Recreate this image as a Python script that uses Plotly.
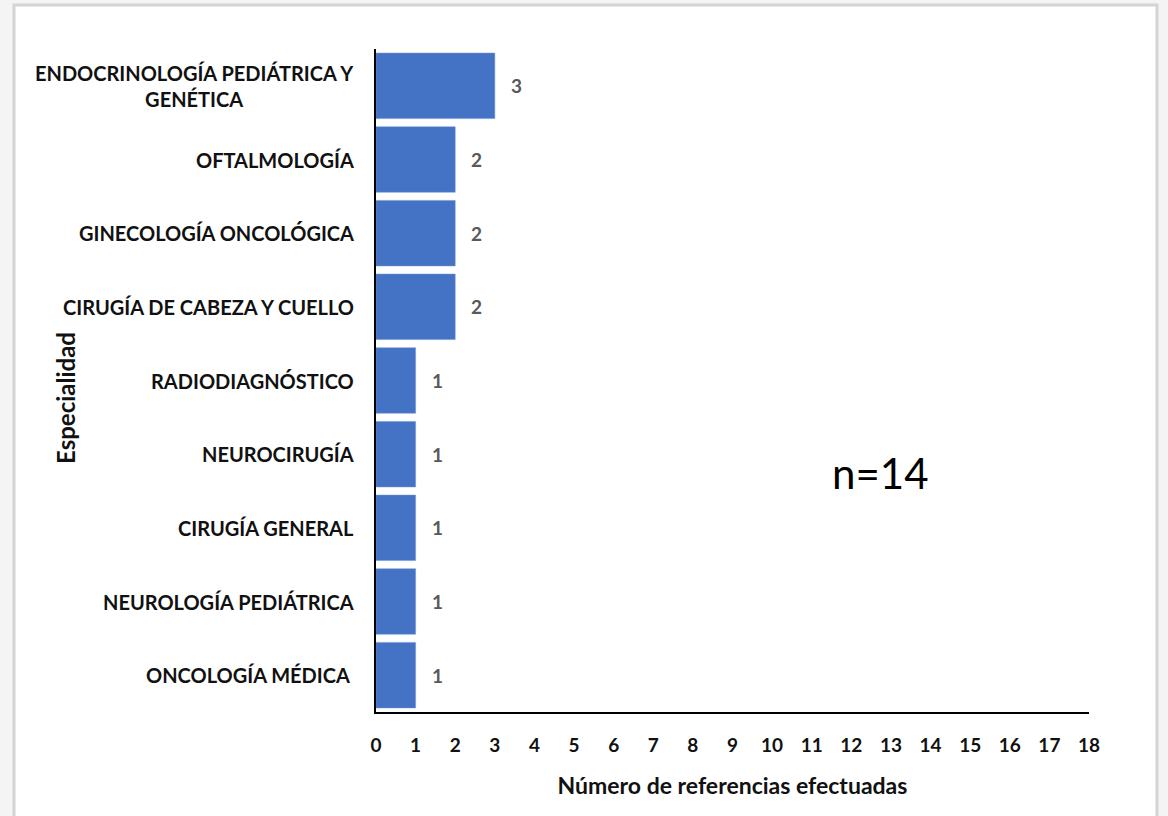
import plotly.graph_objects as go

categories = [
    "ENDOCRINOLOGÍA PEDIÁTRICA Y<br>GENÉTICA",
    "OFTALMOLOGÍA",
    "GINECOLOGÍA ONCOLÓGICA",
    "CIRUGÍA DE CABEZA Y CUELLO",
    "RADIODIAGNÓSTICO",
    "NEUROCIRUGÍA",
    "CIRUGÍA GENERAL",
    "NEUROLOGÍA PEDIÁTRICA",
    "ONCOLOGÍA MÉDICA\u00a0",
]
values = [3, 2, 2, 2, 1, 1, 1, 1, 1]
x_ticks = list(range(0, 19))
x_title = "Número de referencias efectuadas"
y_title = "Especialidad"
note = "n=14"

FONT = "Lato"
W, H = 1168, 816
L, R, T, B = 376, 1089, 49, 712

def px2x(p):
    return (p - L) / (R - L)

def px2y(p):
    return (B - p) / (B - T)

fig = go.Figure()
fig.add_trace(go.Bar(
    x=values, y=categories, orientation="h",
    marker=dict(color="#4472C4", line=dict(color="#6f93d6", width=0.5)),
    width=0.89, hoverinfo="skip",
))

annotations = []
for c, v in zip(categories, values):
    annotations.append(dict(x=v, y=c, xref="x", yref="y", text=f"<b>{v}</b>",
                            showarrow=False, xanchor="left", xshift=14,
                            font=dict(family=FONT, size=19, color="#595959")))
    annotations.append(dict(x=0, y=c, xref="paper", yref="y", text=f"<b>{c}</b>",
                            showarrow=False, xanchor="right", xshift=-20, align="center",
                            font=dict(family=FONT, size=20, color="#111111")))
annotations.append(dict(x=px2x(65), y=px2y(398), xref="paper", yref="paper",
                        xanchor="center", yanchor="middle",
                        text=f"<b>{y_title}</b>", textangle=-90, showarrow=False,
                        font=dict(family=FONT, size=24, color="#111111")))
annotations.append(dict(x=px2x(880), y=px2y(473), xref="paper", yref="paper",
                        xanchor="center", yanchor="middle",
                        text=note, showarrow=False,
                        font=dict(family=FONT, size=42, color="#000000")))

shapes = [dict(type="rect", xref="paper", yref="paper", layer="below",
               x0=px2x(14), x1=px2x(1157), y0=px2y(840), y1=px2y(5),
               fillcolor="white", line=dict(color="#d4d4d4", width=3))]

fig.update_layout(
    width=W, height=H,
    margin=dict(l=L, r=W - R, t=T, b=H - B, pad=0),
    paper_bgcolor="#f4f4f4", plot_bgcolor="white",
    showlegend=False, bargap=0.11,
    annotations=annotations, shapes=shapes,
    xaxis=dict(range=[0, 18], tickvals=x_ticks, ticktext=[f"<b>{t}</b>" for t in x_ticks],
               showgrid=False, zeroline=False, showline=True, linecolor="#000000", linewidth=2,
               ticks="", ticklabelstandoff=15,
               tickfont=dict(family=FONT, size=19, color="#111111"),
               title=dict(text=f"<b>{x_title}</b>", standoff=23,
                          font=dict(family=FONT, size=23, color="#111111"))),
    yaxis=dict(autorange="reversed", showticklabels=False, showgrid=False, zeroline=False,
               showline=True, linecolor="#000000", linewidth=2, ticks=""),
)

fig.write_html("out.html", config={"displayModeBar": False},
               post_script="document.body.style.margin='0px';")
